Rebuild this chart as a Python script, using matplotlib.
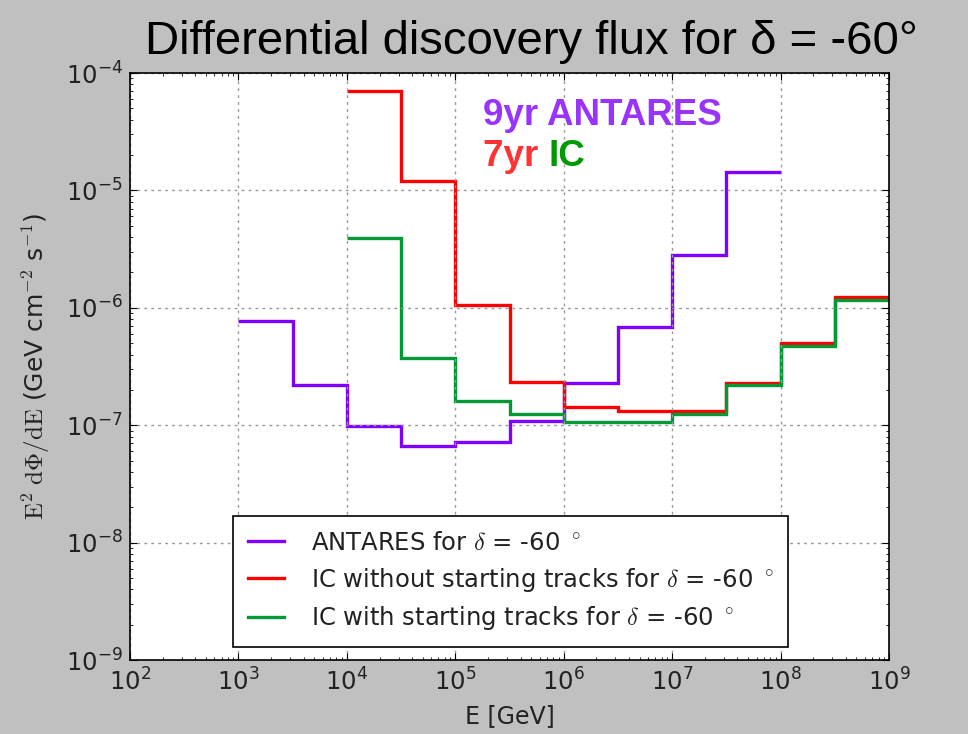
import numpy as np
import matplotlib
matplotlib.use("Agg")
import matplotlib.pyplot as plt
from matplotlib.ticker import LogLocator, FuncFormatter, NullFormatter

plt.rcParams['mathtext.fontset'] = 'cm'
plt.rcParams['font.family'] = ['DejaVu Sans']

# bin edges (log10 E / GeV) and values
antares_edges = [3.0, 3.5, 4.0, 4.5, 5.0, 5.5, 6.0, 6.5, 7.0, 7.5, 8.0]
antares_flux = [7.7e-7, 2.2e-7, 9.8e-8, 6.7e-8, 7.15e-8, 1.09e-7, 2.28e-7, 6.8e-7, 2.84e-6, 1.44e-5]

ic_edges = [4.0, 4.5, 5.0, 5.5, 6.0, 6.5, 7.0, 7.5, 8.0, 8.5, 9.0]
ic_nostart_flux = [7.06e-5, 1.2e-5, 1.05e-6, 2.35e-7, 1.44e-7, 1.33e-7, 1.33e-7, 2.28e-7, 5.0e-7, 1.23e-6]
ic_start_flux = [3.96e-6, 3.72e-7, 1.62e-7, 1.25e-7, 1.07e-7, 1.07e-7, 1.25e-7, 2.21e-7, 4.77e-7, 1.16e-6]

labels = [r'ANTARES for $\delta$ = -60 $^\circ$',
          r'IC without starting tracks for $\delta$ = -60 $^\circ$',
          r'IC with starting tracks for $\delta$ = -60 $^\circ$']
colors = ['#7f00ff', '#ff0000', '#009933']

bg = '#c0c0c0'
txtc = '#222222'
fig = plt.figure(figsize=(9.68, 7.34), dpi=100, facecolor=bg)
ax = fig.add_axes([0.1343, 0.1008, 0.7841, 0.7997])

lw = 2.4
ax.stairs(antares_flux, 10.0 ** np.array(antares_edges), color=colors[0], lw=lw, label=labels[0], baseline=None)
ax.stairs(ic_nostart_flux, 10.0 ** np.array(ic_edges), color=colors[1], lw=lw, label=labels[1], baseline=None)
ax.stairs(ic_start_flux, 10.0 ** np.array(ic_edges), color=colors[2], lw=lw, label=labels[2], baseline=None)

ax.set_xscale('log')
ax.set_yscale('log')
ax.set_xlim(1e2, 1e9)
ax.set_ylim(1e-9, 1e-4)

fmt = FuncFormatter(lambda v, p: r'$\mathregular{10^{%d}}$' % int(round(np.log10(v))))
ax.xaxis.set_major_locator(LogLocator(base=10, numticks=20))
ax.yaxis.set_major_locator(LogLocator(base=10, numticks=20))
ax.xaxis.set_minor_locator(LogLocator(base=10, subs=np.arange(2, 10), numticks=20))
ax.yaxis.set_minor_locator(LogLocator(base=10, subs=np.arange(2, 10), numticks=20))
ax.xaxis.set_major_formatter(fmt)
ax.yaxis.set_major_formatter(fmt)
ax.xaxis.set_minor_formatter(NullFormatter())
ax.yaxis.set_minor_formatter(NullFormatter())
ax.tick_params(which='both', direction='in', top=True, right=True, labelsize=17.5,
               colors='black', labelcolor=txtc)
ax.tick_params(which='major', length=5)
ax.tick_params(which='minor', length=2.5)
ax.tick_params(axis='x', pad=6)
ax.tick_params(axis='y', pad=5)
ax.grid(True, which='major', linestyle=(0, (2, 3)), color='#999999', lw=1)
for s in ax.spines.values():
    s.set_color('black')
    s.set_linewidth(1.2)

ax.set_xlabel('E [GeV]', fontsize=17, labelpad=6, color=txtc)
ax.set_ylabel(r'$\mathrm{E}^2\ \mathrm{d}\Phi/\mathrm{dE}$ (GeV cm$^{-2}$ s$^{-1}$)', fontsize=18,
              labelpad=10, color=txtc)

leg = ax.legend(loc='lower left', bbox_to_anchor=(0.1357, 0.0221), borderaxespad=0,
                fontsize=17.5, frameon=True, fancybox=False, edgecolor='black', framealpha=1,
                handlelength=1.5, handletextpad=1.1, borderpad=0.6, labelspacing=0.45)
leg.get_frame().set_linewidth(1.2)
for t in leg.get_texts():
    t.set_color(txtc)

fig.text(0.549, 0.943, 'Differential discovery flux for δ = -60°', fontsize=34,
         family=['Liberation Sans', 'DejaVu Sans'], ha='center', va='center')
ax.text(0.465, 0.928, '9yr ANTARES', transform=ax.transAxes, fontsize=26.5, fontweight='bold',
        family=['Liberation Sans', 'DejaVu Sans'], color='#9933ff', va='center')
t1 = ax.text(0.465, 0.857, '7yr ', transform=ax.transAxes, fontsize=26.5, fontweight='bold',
             family=['Liberation Sans', 'DejaVu Sans'], color='#ff3333', va='center')
fig.canvas.draw()
bb = t1.get_window_extent()
x1 = ax.transAxes.inverted().transform((bb.x1, bb.y0))[0]
ax.text(x1, 0.857, 'IC', transform=ax.transAxes, fontsize=26.5, fontweight='bold',
        family=['Liberation Sans', 'DejaVu Sans'], color='#009900', va='center')

fig.savefig('out.png', dpi=100, facecolor=bg)
